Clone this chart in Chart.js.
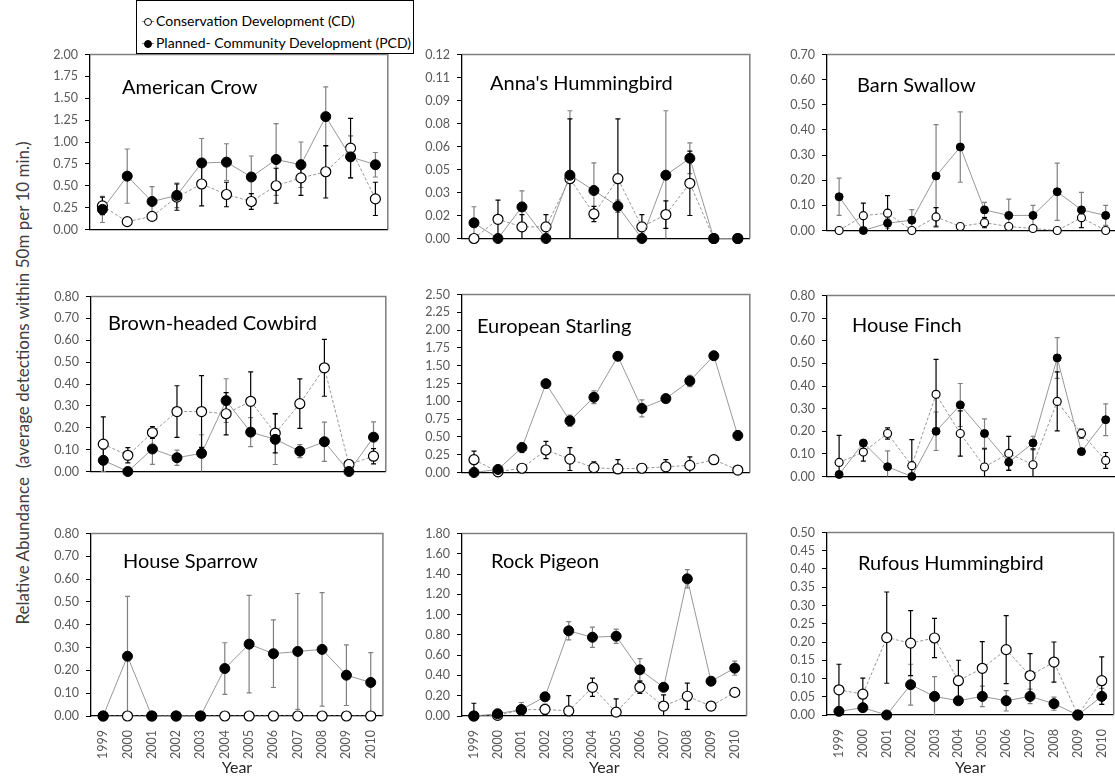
<!DOCTYPE html>
<html>
<head>
<meta charset="utf-8">
<script src="https://cdn.jsdelivr.net/npm/chart.js@4.4.1/dist/chart.umd.min.js"></script>
<style>
  html, body { margin: 0; padding: 0; background: #fff; }
  body { position: relative; width: 1115px; height: 778px; overflow: hidden; font-family: Lato, sans-serif; }
  canvas { position: absolute; }
  #ylabel { position: absolute; left: 22px; top: 383px; transform: translate(-50%, -50%) rotate(-90deg);
            white-space: nowrap; font-size: 17px; color: #404040; }
  #legend { position: absolute; left: 136px; top: 0; width: 276px; height: 52px; border: 1px solid #000;
            background: #fff; z-index: 5; font-size: 14px; color: #000; }
  .item { position: absolute; left: 5px; height: 18px; line-height: 18px; white-space: nowrap; }
  .mk { position: relative; display: inline-block; width: 12px; height: 18px; vertical-align: top; margin-right: 2px; }
  .ln { position: absolute; left: 0; top: 9px; width: 12px; height: 1px; background: #808080; }
  .dot { position: absolute; left: 2px; top: 5.5px; width: 8px; height: 8px; border-radius: 50%;
         border: 1px solid #000; box-sizing: border-box; }
  .open { background: #fff; }
  .fill { background: #000; }
</style>
</head>
<body>
<div id="ylabel">Relative Abundance&nbsp; (average detections within 50m per 10 min.)</div>
<div id="legend">
  <div class="item" style="top:11px"><span class="mk"><i class="ln"></i><i class="dot open"></i></span>Conservation Development (CD)</div>
  <div class="item" style="top:33px"><span class="mk"><i class="ln"></i><i class="dot fill"></i></span>Planned- Community Development (PCD)</div>
</div>
<script>
const years = ['1999', '2000', '2001', '2002', '2003', '2004', '2005', '2006', '2007', '2008', '2009', '2010'];
const species = ['American Crow', "Anna's Hummingbird", 'Barn Swallow', 'Brown-headed Cowbird', 'European Starling',
  'House Finch', 'House Sparrow', 'Rock Pigeon', 'Rufous Hummingbird'];

// y axis ranges per panel
const yMax = [2.0, 0.12, 0.70, 0.80, 2.50, 0.80, 0.80, 1.80, 0.50];
const yStep = [0.25, 0.015, 0.10, 0.10, 0.25, 0.10, 0.10, 0.20, 0.05];
const annaTickLabels = ['0.00', '0.02', '0.03', '0.05', '0.06', '0.08', '0.09', '0.11', '0.12'];

// CD = conservation development, PCD = planned-community development, se = error bar
const amcrCD = [0.27, 0.09, 0.15, 0.37, 0.52, 0.40, 0.32, 0.50, 0.59, 0.66, 0.93, 0.35];
const amcrCDse = [0.10, 0.04, 0.03, 0.15, 0.25, 0.14, 0.09, 0.20, 0.20, 0.30, 0.34, 0.19];
const amcrPCD = [0.23, 0.61, 0.32, 0.39, 0.76, 0.77, 0.60, 0.80, 0.74, 1.29, 0.83, 0.74];
const amcrPCDse = [0.15, 0.31, 0.17, 0.14, 0.28, 0.21, 0.24, 0.41, 0.26, 0.34, 0.24, 0.14];

const annaCD = [0, 0.0125, 0.0076, 0.0076, 0.039, 0.016, 0.039, 0.0076, 0.0156, 0.036, 0, 0];
const annaCDse = [0, 0.0125, 0.008, 0.008, 0.039, 0.005, 0.039, 0.008, 0.009, 0.021, 0, 0];
const annaPCD = [0.0102, 0, 0.0206, 0, 0.0413, 0.0313, 0.021, 0, 0.0413, 0.0523, 0, 0];
const annaPCDse = [0.0105, 0, 0.0104, 0, 0.042, 0.018, 0.004, 0, 0.042, 0.010, 0, 0];

const bansCD = [0, 0.059, 0.069, 0, 0.054, 0.016, 0.031, 0.016, 0.008, 0, 0.051, 0];
const bansCDse = [0, 0.05, 0.07, 0, 0.037, 0.005, 0.02, 0.01, 0.005, 0, 0.04, 0];
const bansPCD = [0.134, 0, 0.029, 0.041, 0.217, 0.332, 0.082, 0.060, 0.060, 0.154, 0.082, 0.060];
const bansPCDse = [0.074, 0, 0.02, 0.042, 0.204, 0.14, 0.03, 0.065, 0.04, 0.114, 0.07, 0.04];

const bhcoCD = [0.125, 0.074, 0.178, 0.274, 0.274, 0.264, 0.321, 0.175, 0.31, 0.474, 0.032, 0.07];
const bhcoCDse = [0.125, 0.035, 0.027, 0.118, 0.164, 0.097, 0.134, 0.09, 0.113, 0.13, 0.02, 0.035];
const bhcoPCD = [0.051, 0, 0.103, 0.063, 0.083, 0.324, 0.18, 0.147, 0.093, 0.136, 0, 0.157];
const bhcoPCDse = [0.05, 0, 0.07, 0.035, 0.085, 0.10, 0.066, 0.115, 0.03, 0.09, 0, 0.07];

const eustCD = [0.18, 0.01, 0.06, 0.316, 0.188, 0.068, 0.05, 0.06, 0.08, 0.10, 0.18, 0.034];
const eustCDse = [0.12, 0.01, 0.01, 0.12, 0.16, 0.08, 0.13, 0.06, 0.1, 0.12, 0.02, 0.01];
const eustPCD = [0, 0.043, 0.35, 1.248, 0.726, 1.056, 1.632, 0.90, 1.038, 1.286, 1.64, 0.52];
const eustPCDse = [0, 0.01, 0.07, 0.02, 0.08, 0.09, 0.05, 0.12, 0.02, 0.08, 0.02, 0.07];

const hofiCD = [0.062, 0.108, 0.19, 0.048, 0.363, 0.19, 0.042, 0.102, 0.052, 0.332, 0.19, 0.071];
const hofiCDse = [0.12, 0.04, 0.025, 0.115, 0.155, 0.1, 0.08, 0.075, 0.07, 0.13, 0.02, 0.035];
const hofiPCD = [0.009, 0.148, 0.043, 0, 0.20, 0.316, 0.19, 0.063, 0.148, 0.524, 0.11, 0.251];
const hofiPCDse = [0, 0.01, 0.07, 0, 0.085, 0.095, 0.065, 0.035, 0.03, 0.09, 0, 0.07];

const hospCD = [0, 0, 0, 0, 0, 0, 0, 0, 0, 0, 0, 0];
const hospCDse = [0, 0, 0, 0, 0, 0, 0, 0, 0, 0, 0, 0];
const hospPCD = [0, 0.262, 0, 0, 0, 0.208, 0.315, 0.273, 0.283, 0.292, 0.179, 0.147];
const hospPCDse = [0, 0.262, 0, 0, 0, 0.113, 0.214, 0.148, 0.254, 0.249, 0.133, 0.131];

const ropiCD = [0, 0.006, 0.06, 0.066, 0.05, 0.283, 0.038, 0.283, 0.098, 0.195, 0.098, 0.233];
const ropiCDse = [0.126, 0, 0.01, 0.05, 0.15, 0.09, 0.13, 0.06, 0.11, 0.13, 0.01, 0.01];
const ropiPCD = [0, 0.022, 0.063, 0.189, 0.84, 0.777, 0.787, 0.456, 0.283, 1.353, 0.343, 0.472];
const ropiPCDse = [0, 0.01, 0.07, 0.04, 0.09, 0.1, 0.07, 0.11, 0, 0.09, 0.01, 0.07];

const ruhuCD = [0.069, 0.057, 0.212, 0.197, 0.211, 0.094, 0.128, 0.179, 0.108, 0.145, 0, 0.094];
const ruhuCDse = [0.07, 0.044, 0.125, 0.089, 0.054, 0.056, 0.073, 0.093, 0.06, 0.055, 0, 0.065];
const ruhuPCD = [0.01, 0.02, 0, 0.083, 0.051, 0.039, 0.051, 0.039, 0.051, 0.031, 0, 0.051];
const ruhuPCDse = [0.01, 0.01, 0, 0.056, 0.054, 0.01, 0.028, 0.028, 0.02, 0.018, 0, 0.022];

const panels = [
  [amcrCD, amcrCDse, amcrPCD, amcrPCDse],
  [annaCD, annaCDse, annaPCD, annaPCDse],
  [bansCD, bansCDse, bansPCD, bansPCDse],
  [bhcoCD, bhcoCDse, bhcoPCD, bhcoPCDse],
  [eustCD, eustCDse, eustPCD, eustPCDse],
  [hofiCD, hofiCDse, hofiPCD, hofiPCDse],
  [hospCD, hospCDse, hospPCD, hospPCDse],
  [ropiCD, ropiCDse, ropiPCD, ropiPCDse],
  [ruhuCD, ruhuCDse, ruhuPCD, ruhuPCDse]
];

// page layout: plot area of each panel
const plotLeft = [90, 462, 827, 91, 462, 827, 91, 462, 827];
const plotRight = [392, 754, 1121, 390, 754, 1121, 390, 754, 1121];
const plotTop = [46, 46, 46, 288, 286, 287, 525, 525, 524];
const plotBottom = [238, 247, 239, 480, 481, 485, 716, 716, 715];
const titleDx = [32, 28, 30, 17, 15, 25, 32, 29, 31];
const titleDy = [33, 29, 31, 27, 32, 30, 28, 28, 31];
const markerR = [5, 5, 4, 5, 5, 4, 5, 5, 5];

const tickFont = { family: 'Lato', size: 12.5 };

const panelPlugin = {
  id: 'panel',
  beforeDatasetsDraw(chart, args, opts) {
    const { ctx, chartArea: a } = chart;
    const y = chart.scales.y;
    ctx.save();
    // top and right frame
    ctx.strokeStyle = '#7f7f7f';
    ctx.lineWidth = 1.5;
    ctx.beginPath();
    ctx.moveTo(a.left, a.top);
    ctx.lineTo(a.right, a.top);
    ctx.lineTo(a.right, a.bottom);
    ctx.stroke();
    // panel title
    ctx.fillStyle = '#000';
    ctx.font = '20px Lato';
    ctx.textBaseline = 'middle';
    ctx.fillText(opts.title, a.left + opts.dx, a.top + opts.dy);
    // error bars
    opts.errors.forEach((errs, di) => {
      const meta = chart.getDatasetMeta(di);
      const vals = chart.data.datasets[di].data;
      ctx.strokeStyle = opts.errColors[di];
      ctx.lineWidth = 1.2;
      meta.data.forEach((pt, i) => {
        const e = errs[i];
        if (!e) return;
        const x = pt.x;
        const yt = y.getPixelForValue(vals[i] + e);
        const yb = y.getPixelForValue(Math.max(0, vals[i] - e));
        ctx.beginPath();
        ctx.moveTo(x, yt); ctx.lineTo(x, yb);
        ctx.moveTo(x - 2.5, yt); ctx.lineTo(x + 2.5, yt);
        if (vals[i] - e > 0) { ctx.moveTo(x - 2.5, yb); ctx.lineTo(x + 2.5, yb); }
        ctx.stroke();
      });
    });
    ctx.restore();
  }
};

function makePanel(p) {
  const row = Math.floor(p / 3);
  const [cd, cdSe, pcd, pcdSe] = panels[p];
  const left = 52, top = 6, right = 2;
  const bottom = row === 2 ? 778 - plotBottom[p] : 6;
  const w = left + (plotRight[p] - plotLeft[p]) + right;
  const h = top + (plotBottom[p] - plotTop[p]) + bottom;
  const canvas = document.createElement('canvas');
  canvas.width = w; canvas.height = h;
  canvas.style.left = (plotLeft[p] - left) + 'px';
  canvas.style.top = (plotTop[p] - top) + 'px';
  canvas.style.width = w + 'px';
  canvas.style.height = h + 'px';
  document.body.appendChild(canvas);

  new Chart(canvas, {
    type: 'line',
    data: {
      labels: years,
      datasets: [
        {
          label: 'Planned- Community Development (PCD)',
          data: pcd,
          borderColor: '#8c8c8c', borderWidth: 0.9,
          pointRadius: markerR[p], pointBackgroundColor: '#000', pointBorderColor: '#000', pointBorderWidth: 1,
          clip: false
        },
        {
          label: 'Conservation Development (CD)',
          data: cd,
          borderColor: '#8c8c8c', borderWidth: 0.9, borderDash: [3, 2],
          pointRadius: markerR[p], pointBackgroundColor: '#fff', pointBorderColor: '#000', pointBorderWidth: 1.2,
          clip: false
        }
      ]
    },
    options: {
      responsive: false,
      animation: false,
      devicePixelRatio: 1,
      layout: { padding: { top: top, right: right, left: 0, bottom: 0 } },
      plugins: {
        legend: { display: false },
        tooltip: { enabled: false },
        panel: {
          title: species[p], dx: titleDx[p], dy: titleDy[p],
          errors: [pcdSe, cdSe], errColors: ['#808080', '#000']
        }
      },
      scales: {
        x: {
          type: 'category',
          offset: true,
          grid: { display: false },
          border: { display: true, color: '#000', width: 1.3 },
          ticks: {
            display: row === 2, autoSkip: false, minRotation: 90, maxRotation: 90,
            color: '#595959', font: tickFont, padding: 6
          },
          title: { display: row === 2, text: 'Year', color: '#262626', font: { family: 'Lato', size: 16 }, padding: { top: 0, bottom: 1 } },
          afterFit(scale) { scale.height = bottom; }
        },
        y: {
          min: 0, max: yMax[p],
          grid: { display: true, drawOnChartArea: false, drawTicks: true, tickLength: 5, color: '#000' },
          border: { display: true, color: '#000', width: 1.3 },
          ticks: {
            stepSize: yStep[p], color: '#595959', font: tickFont, padding: 7,
            callback: (v, i) => p === 1 ? annaTickLabels[i] : v.toFixed(2)
          },
          afterFit(scale) { scale.width = left; }
        }
      }
    },
    plugins: [panelPlugin]
  });
}

for (let p = 0; p < panels.length; p++) makePanel(p);
</script>
</body>
</html>
